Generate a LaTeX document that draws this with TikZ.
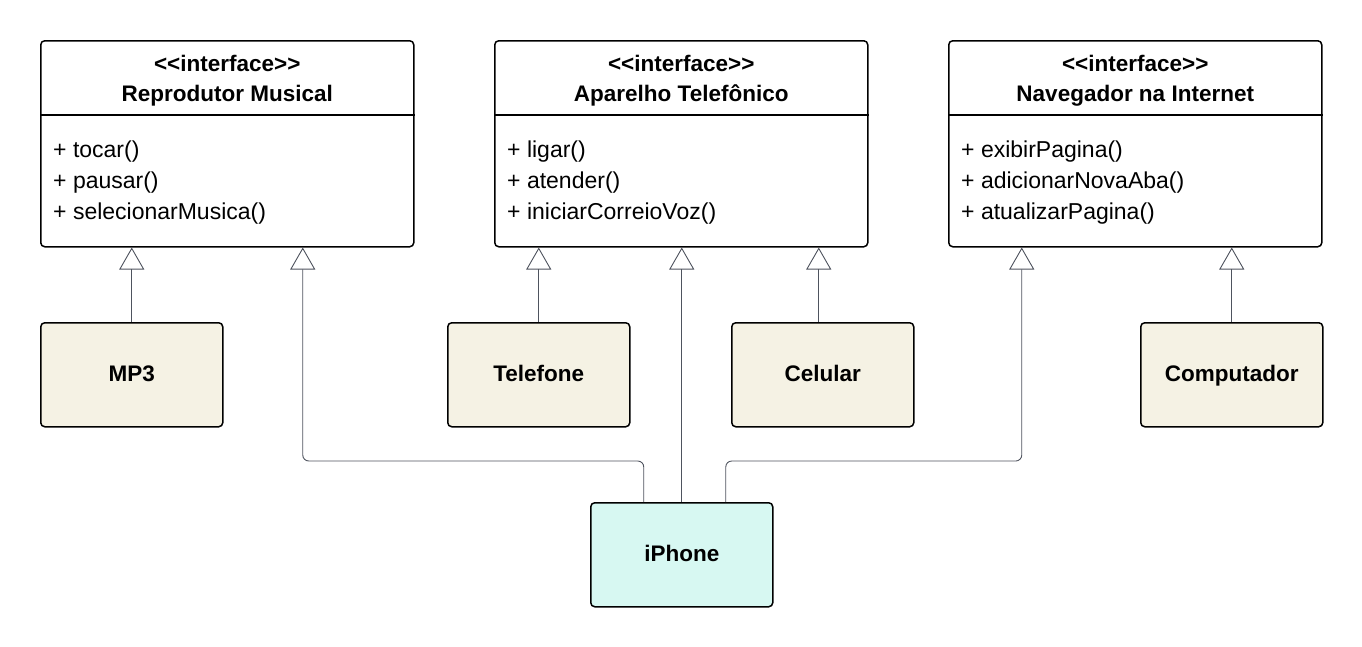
\documentclass[tikz,border=0pt]{standalone}
\usepackage{fontspec}
\setmainfont{Liberation Sans}
\usetikzlibrary{arrows.meta}
\definecolor{beige}{HTML}{F5F2E4}
\definecolor{mint}{HTML}{D7F8F2}
\definecolor{conn}{HTML}{4E535E}
\tikzset{
  iface/.style={draw=black, line width=1.5pt, rounded corners=4pt, fill=white,
    minimum width=373pt, minimum height=206pt, anchor=north west, inner sep=0pt},
  cls/.style={draw=black, line width=1.5pt, rounded corners=4pt,
    minimum width=182pt, minimum height=104pt, anchor=north west, inner sep=0pt,
    text height=16pt, text depth=2pt,
    font=\fontsize{22.5}{26}\selectfont\bfseries},
  ttl/.style={font=\fontsize{22.5}{26}\selectfont\bfseries, inner sep=0pt, anchor=center,
    text height=16pt, text depth=5pt},
  attr/.style={font=\fontsize{23}{26}\selectfont, inner sep=0pt, anchor=west},
  impl/.style={draw=conn, line width=0.9pt, rounded corners=6pt,
    -{Triangle[open, length=22pt, width=25pt, line width=0.9pt]}},
}
\newcommand{\stereo}{<\kern0pt<interface>\kern0pt>}
\begin{document}
\begin{tikzpicture}[x=1pt,y=-1pt]
\useasboundingbox (0,0) rectangle (1362,646);
% interfaces
\node[iface] (rep) at (40,40) {};
\node[iface] (tel) at (494,40) {};
\node[iface] (nav) at (948,40) {};
\foreach \n/\t in {rep/Reprodutor Musical, tel/Aparelho Telefônico, nav/Navegador na Internet}{
  \node[ttl] at ([yshift=-26pt]\n.north) {\stereo};
  \node[ttl] at ([yshift=-56pt]\n.north) {\t};
  \draw[line width=1.5pt] ([yshift=-75pt]\n.north west) -- ([yshift=-75pt]\n.north east);
}
\node[attr] (r1) at ([xshift=13pt,yshift=-112pt]rep.north west) {+ tocar()};
\node[attr] (r2) at ([xshift=13pt,yshift=-143pt]rep.north west) {+ pausar()};
\node[attr] (r3) at ([xshift=13pt,yshift=-174pt]rep.north west) {+ selecionarMusica()};
\node[attr] (t1) at ([xshift=13pt,yshift=-112pt]tel.north west) {+ ligar()};
\node[attr] (t2) at ([xshift=13pt,yshift=-143pt]tel.north west) {+ atender()};
\node[attr] (t3) at ([xshift=13pt,yshift=-174pt]tel.north west) {+ iniciarCorreioVoz()};
\node[attr] (n1) at ([xshift=13pt,yshift=-112pt]nav.north west) {+ exibirPagina()};
\node[attr] (n2) at ([xshift=13pt,yshift=-143pt]nav.north west) {+ adicionarNovaAba()};
\node[attr] (n3) at ([xshift=13pt,yshift=-174pt]nav.north west) {+ atualizarPagina()};
% classes
\node[cls, fill=beige] (mp3) at (40,322) {MP3};
\node[cls, fill=beige] (fone) at (447,322) {Telefone};
\node[cls, fill=beige] (cel) at (731,322) {Celular};
\node[cls, fill=beige] (comp) at (1140,322) {Computador};
\node[cls, fill=mint] (iph) at (590,502) {iPhone};
% connectors
\draw[impl] (mp3.north) -- (mp3.north |- rep.south);
\draw[impl] (fone.north) -- (fone.north |- tel.south);
\draw[impl] ([xshift=-4pt]cel.north) -- ([xshift=-4pt]cel.north |- tel.south);
\draw[impl] (comp.north) -- (comp.north |- nav.south);
\draw[impl] ([xshift=-38pt]iph.north) -- ++(0,-41) -| ([xshift=75.5pt]rep.south);
\draw[impl] (iph.north) -- (iph.north |- tel.south);
\draw[impl] ([xshift=44pt]iph.north) -- ++(0,-41) -| ([xshift=-113.5pt]nav.south);
\end{tikzpicture}
\end{document}
